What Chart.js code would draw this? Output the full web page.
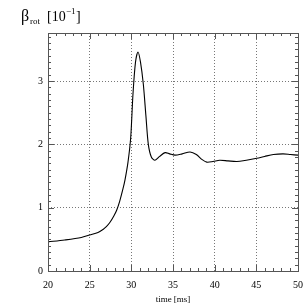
<!DOCTYPE html>
<html>
<head>
<meta charset="utf-8">
<script src="https://cdn.jsdelivr.net/npm/chart.js@4/dist/chart.umd.min.js"></script>
<style>
  html, body { margin: 0; padding: 0; background: #fff; }
  #wrap { width: 305px; height: 305px; }
</style>
</head>
<body>
<div id="wrap"><canvas id="c"></canvas></div>
<script>
// time in ms, beta_rot in units of 10^-1
const times = [20, 22, 24, 25, 26, 26.64, 27, 27.44, 27.9, 28.24, 28.6, 29.0, 29.24, 29.6, 29.92, 30.2, 30.5, 30.8, 31.1, 31.44, 31.75, 32.04, 32.4, 32.84, 33.4, 34.05, 34.6, 35.25, 36.1, 37.05, 37.8, 38.5, 39.05, 39.8, 40.6, 41.6, 42.65, 43.8, 45.05, 46.0, 47.05, 48.2, 49.1, 50];
const beta = [0.46, 0.49, 0.53, 0.57, 0.61, 0.66, 0.70, 0.77, 0.87, 0.96, 1.1, 1.3, 1.44, 1.72, 2.1, 2.8, 3.3, 3.46, 3.3, 2.95, 2.45, 2.0, 1.8, 1.75, 1.81, 1.87, 1.85, 1.83, 1.85, 1.88, 1.84, 1.76, 1.72, 1.73, 1.75, 1.74, 1.73, 1.75, 1.78, 1.81, 1.84, 1.85, 1.84, 1.83];
const xTicks = [20, 25, 30, 35, 40, 45, 50];
const yTicks = [0, 1, 2, 3];

const serif = "'Liberation Serif', 'DejaVu Serif', serif";

const frameTicks = {
  id: 'frameTicks',
  afterDraw(chart) {
    const ctx = chart.ctx, a = chart.chartArea;
    const xs = chart.scales.x, ys = chart.scales.y;
    ctx.save();
    ctx.strokeStyle = '#555';
    ctx.lineWidth = 1;
    ctx.beginPath();
    for (let t = 20; t <= 50; t++) {
      const px = Math.round(xs.getPixelForValue(t)) + 0.5;
      const len = t % 5 === 0 ? 6 : 3;
      ctx.moveTo(px, a.bottom); ctx.lineTo(px, a.bottom - len);
      ctx.moveTo(px, a.top); ctx.lineTo(px, a.top + len);
    }
    for (let i = 0; i <= 37; i++) {
      const v = i / 10;
      const py = Math.round(ys.getPixelForValue(v)) + 0.5;
      const len = i % 10 === 0 ? 6 : 3;
      ctx.moveTo(a.left, py); ctx.lineTo(a.left + len, py);
      ctx.moveTo(a.right, py); ctx.lineTo(a.right - len, py);
    }
    ctx.stroke();
    ctx.strokeRect(a.left + 0.5, a.top + 0.5, a.right - a.left, a.bottom - a.top);
    // title
    ctx.fillStyle = '#000';
    ctx.textBaseline = 'alphabetic';
    ctx.font = "16px " + serif;
    ctx.fillText('β', 21, 21);
    ctx.font = "9px " + serif;
    ctx.fillText('rot', 30, 24);
    ctx.font = "14px " + serif;
    ctx.fillText('[10', 47, 21);
    ctx.font = "9px " + serif;
    ctx.fillText('−1', 66, 14);
    ctx.font = "14px " + serif;
    ctx.fillText(']', 76, 21);
    ctx.restore();
  }
};

new Chart(document.getElementById('c'), {
  type: 'line',
  data: {
    datasets: [{
      data: times.map((t, i) => ({ x: t, y: beta[i] })),
      borderColor: '#000',
      borderWidth: 1.1,
      pointRadius: 0,
      fill: false,
      tension: 0.3
    }]
  },
  options: {
    responsive: true,
    maintainAspectRatio: false,
    animation: false,
    layout: { padding: { top: 33, right: 7, left: 0, bottom: 0 } },
    plugins: { legend: { display: false }, tooltip: { enabled: false } },
    scales: {
      x: {
        type: 'linear',
        min: 20, max: 50,
        afterBuildTicks: s => { s.ticks = xTicks.map(v => ({ value: v })); },
        afterFit: s => { s.height = 34; s.paddingRight = 0; },
        grid: { color: '#777', drawTicks: false },
        border: { display: false, dash: [1, 2] },
        ticks: { color: '#000', padding: 8, maxRotation: 0, font: { family: serif, size: 10 } },
        title: { display: true, text: 'time [ms]', color: '#000', padding: { top: 0, bottom: 0 }, font: { family: serif, size: 9 } }
      },
      y: {
        min: 0, max: 3.76,
        afterBuildTicks: s => { s.ticks = yTicks.map(v => ({ value: v })); },
        afterFit: s => { s.width = 48; },
        grid: { color: '#777', drawTicks: false },
        border: { display: false, dash: [1, 2] },
        ticks: { color: '#000', padding: 5, font: { family: serif, size: 10 } }
      }
    }
  },
  plugins: [frameTicks]
});
</script>
</body>
</html>
